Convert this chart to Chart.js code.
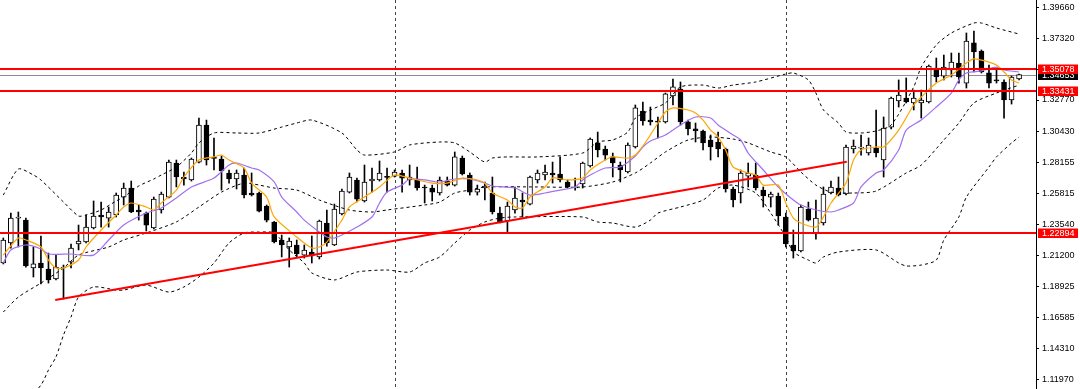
<!DOCTYPE html>
<html>
<head>
<meta charset="utf-8">
<script src="https://cdn.jsdelivr.net/npm/chart.js@4.4.0/dist/chart.umd.min.js"></script>
<style>
  html, body { margin: 0; padding: 0; background: #fff; }
</style>
</head>
<body>
<canvas id="chart" width="1080" height="389"></canvas>
<script>
// weekly candles, oldest first
let opens = [1.2066, 1.2215, 1.2400, 1.2385, 1.2029, 1.2066, 1.2021, 1.1947, 1.2029, 1.2073,
    1.2207, 1.2222, 1.2326, 1.2423, 1.2400, 1.2423, 1.2556, 1.2623, 1.2460, 1.2437,
    1.2326, 1.2460, 1.2556, 1.2809, 1.2705, 1.2683, 1.2816, 1.3091, 1.2846, 1.2839,
    1.2735, 1.2690, 1.2720, 1.2586, 1.2586, 1.2489, 1.2371, 1.2237, 1.2185, 1.2200,
    1.2125, 1.2148, 1.2111, 1.2363, 1.2200, 1.2430, 1.2593, 1.2683, 1.2527, 1.2675,
    1.2683, 1.2705, 1.2712, 1.2735, 1.2683, 1.2690, 1.2631, 1.2623, 1.2586, 1.2675,
    1.2645, 1.2846, 1.2720, 1.2593, 1.2623, 1.2586, 1.2437, 1.2378, 1.2460, 1.2534,
    1.2504, 1.2683, 1.2720, 1.2735, 1.2727, 1.2668, 1.2623, 1.2653, 1.2787, 1.2958,
    1.2913, 1.2854, 1.2794, 1.2742, 1.2928, 1.3195, 1.3128, 1.3121, 1.3114, 1.3307,
    1.3359, 1.3114, 1.3062, 1.3047, 1.2980, 1.2965, 1.2913, 1.2616, 1.2586, 1.2712,
    1.2720, 1.2608, 1.2556, 1.2564, 1.2408, 1.2200, 1.2155, 1.2467, 1.2289, 1.2363,
    1.2586, 1.2623, 1.2579, 1.2913, 1.2920, 1.2883, 1.2920, 1.2831, 1.3076, 1.3270,
    1.3292, 1.3255, 1.3255, 1.3262, 1.3515, 1.3455, 1.3500, 1.3552, 1.3403, 1.3701,
    1.3641, 1.3478, 1.3426, 1.3411, 1.3277, 1.3433];

let highs = [1.2252, 1.2437, 1.2445, 1.2400, 1.2185, 1.2267, 1.2140, 1.2125, 1.2051, 1.2207,
    1.2348, 1.2423, 1.2527, 1.2519, 1.2482, 1.2586, 1.2660, 1.2675, 1.2497, 1.2445,
    1.2556, 1.2593, 1.2831, 1.2831, 1.2742, 1.2846, 1.3143, 1.3128, 1.2995, 1.2861,
    1.2757, 1.2757, 1.2772, 1.2735, 1.2593, 1.2497, 1.2375, 1.2274, 1.2252, 1.2237,
    1.2200, 1.2267, 1.2385, 1.2460, 1.2504, 1.2616, 1.2735, 1.2697, 1.2794, 1.2772,
    1.2824, 1.2772, 1.2757, 1.2757, 1.2794, 1.2779, 1.2645, 1.2645, 1.2705, 1.2705,
    1.2891, 1.2861, 1.2735, 1.2645, 1.2668, 1.2705, 1.2482, 1.2519, 1.2631, 1.2586,
    1.2712, 1.2757, 1.2794, 1.2816, 1.2854, 1.2683, 1.2697, 1.2816, 1.2995, 1.3039,
    1.2935, 1.2883, 1.2816, 1.2958, 1.3240, 1.3262, 1.3225, 1.3151, 1.3329, 1.3433,
    1.3411, 1.3128, 1.3106, 1.3054, 1.3017, 1.3039, 1.2920, 1.2631, 1.2757, 1.2809,
    1.2809, 1.2631, 1.2593, 1.2586, 1.2437, 1.2311, 1.2497, 1.2519, 1.2534, 1.2631,
    1.2675, 1.2705, 1.2943, 1.2980, 1.3017, 1.2995, 1.3203, 1.3151, 1.3299, 1.3426,
    1.3441, 1.3351, 1.3351, 1.3537, 1.3589, 1.3611, 1.3626, 1.3626, 1.3775, 1.3790,
    1.3649, 1.3537, 1.3515, 1.3426, 1.3455, 1.3470];

let lows = [1.2059, 1.2177, 1.2185, 1.2036, 1.1962, 1.1910, 1.1917, 1.1940, 1.1798, 1.2029,
    1.2163, 1.2215, 1.2319, 1.2333, 1.2333, 1.2408, 1.2497, 1.2440, 1.2385, 1.2304,
    1.2319, 1.2437, 1.2549, 1.2631, 1.2645, 1.2675, 1.2809, 1.2794, 1.2757, 1.2608,
    1.2660, 1.2616, 1.2549, 1.2564, 1.2445, 1.2371, 1.2215, 1.2111, 1.2036, 1.2111,
    1.2103, 1.2066, 1.2096, 1.2192, 1.2195, 1.2423, 1.2586, 1.2519, 1.2519, 1.2593,
    1.2675, 1.2593, 1.2705, 1.2593, 1.2645, 1.2608, 1.2512, 1.2527, 1.2571, 1.2638,
    1.2638, 1.2720, 1.2571, 1.2571, 1.2534, 1.2430, 1.2363, 1.2289, 1.2437, 1.2408,
    1.2497, 1.2660, 1.2683, 1.2660, 1.2668, 1.2623, 1.2608, 1.2623, 1.2779, 1.2854,
    1.2831, 1.2705, 1.2668, 1.2735, 1.2920, 1.3091, 1.3091, 1.2995, 1.3106, 1.3240,
    1.3091, 1.3017, 1.2965, 1.2906, 1.2831, 1.2854, 1.2593, 1.2482, 1.2512, 1.2631,
    1.2608, 1.2482, 1.2482, 1.2348, 1.2185, 1.2103, 1.2148, 1.2378, 1.2244, 1.2348,
    1.2579, 1.2564, 1.2571, 1.2883, 1.2868, 1.2868, 1.2854, 1.2705, 1.3062, 1.3225,
    1.3255, 1.3203, 1.3143, 1.3255, 1.3411, 1.3426, 1.3448, 1.3403, 1.3366, 1.3485,
    1.3478, 1.3366, 1.3403, 1.3143, 1.3247, 1.3426];

let closes = [1.2237, 1.2400, 1.2408, 1.2044, 1.2059, 1.2029, 1.1940, 1.2036, 1.2033, 1.2177,
    1.2229, 1.2333, 1.2415, 1.2408, 1.2445, 1.2571, 1.2623, 1.2445, 1.2445, 1.2348,
    1.2541, 1.2579, 1.2816, 1.2705, 1.2690, 1.2839, 1.3091, 1.2831, 1.2843, 1.2750,
    1.2690, 1.2735, 1.2571, 1.2571, 1.2452, 1.2385, 1.2222, 1.2200, 1.2229, 1.2133,
    1.2163, 1.2118, 1.2378, 1.2215, 1.2467, 1.2601, 1.2705, 1.2541, 1.2668, 1.2690,
    1.2735, 1.2702, 1.2742, 1.2697, 1.2705, 1.2623, 1.2623, 1.2593, 1.2683, 1.2645,
    1.2854, 1.2727, 1.2593, 1.2616, 1.2638, 1.2445, 1.2371, 1.2489, 1.2549, 1.2519,
    1.2705, 1.2735, 1.2742, 1.2720, 1.2683, 1.2631, 1.2631, 1.2809, 1.2987, 1.2906,
    1.2868, 1.2809, 1.2757, 1.2943, 1.3218, 1.3121, 1.3114, 1.3112, 1.3322, 1.3374,
    1.3114, 1.3062, 1.3047, 1.2958, 1.2928, 1.2913, 1.2616, 1.2534, 1.2735, 1.2735,
    1.2623, 1.2564, 1.2579, 1.2415, 1.2207, 1.2155, 1.2482, 1.2385, 1.2400, 1.2579,
    1.2631, 1.2571, 1.2928, 1.2935, 1.2922, 1.2943, 1.2883, 1.3069, 1.3292, 1.3314,
    1.3262, 1.3292, 1.3277, 1.3530, 1.3448, 1.3522, 1.3559, 1.3448, 1.3715, 1.3634,
    1.3485, 1.3403, 1.3418, 1.3277, 1.3448, 1.3465];

// indicator lines: [bar, price]
let fastMA = [[0,1.2125],[2,1.2252],[3,1.2237],[5,1.2185],[6,1.2088],[7,1.2029],[8,1.2029],[10,1.2088],[11,1.2185],[13,1.2311],
    [15,1.2423],[16,1.2482],[17,1.2512],[19,1.2482],[20,1.2460],[21,1.2512],[23,1.2608],[24,1.2705],[26,1.2831],[28,1.2854],
    [29,1.2868],[30,1.2831],[32,1.2772],[33,1.2660],[35,1.2556],[36,1.2408],[39,1.2259],[41,1.2177],[42,1.2185],[43,1.2222],
    [45,1.2385],[46,1.2482],[48,1.2556],[50,1.2631],[52,1.2720],[54,1.2697],[57,1.2660],[59,1.2660],[61,1.2697],[63,1.2683],
    [64,1.2660],[65,1.2586],[67,1.2534],[68,1.2482],[69,1.2475],[70,1.2556],[72,1.2631],[73,1.2697],[75,1.2683],[77,1.2697],
    [78,1.2757],[80,1.2831],[81,1.2854],[83,1.2846],[84,1.2868],[85,1.2935],[86,1.3017],[87,1.3106],[88,1.3188],[89,1.3218],
    [91,1.3203],[92,1.3180],[93,1.3128],[94,1.3054],[95,1.3002],[96,1.2906],[97,1.2779],[99,1.2735],[100,1.2720],[101,1.2645],
    [103,1.2645],[104,1.2512],[105,1.2400],[106,1.2363],[108,1.2333],[109,1.2408],[110,1.2512],[112,1.2660],[113,1.2831],[114,1.2906],
    [116,1.2928],[117,1.2928],[119,1.3054],[121,1.3240],[122,1.3299],[124,1.3403],[126,1.3463],[128,1.3552],[129,1.3582],[131,1.3559],
    [132,1.3537],[133,1.3485],[134,1.3426],[135,1.3403]];

let slowMA = [[0,1.2066],[1,1.2163],[3,1.2200],[5,1.2170],[6,1.2133],[9,1.2133],[12,1.2125],[14,1.2237],[16,1.2348],[19,1.2437],
    [21,1.2475],[23,1.2549],[25,1.2631],[28,1.2697],[30,1.2794],[31,1.2809],[33,1.2772],[34,1.2757],[36,1.2668],[37,1.2556],
    [39,1.2445],[40,1.2385],[42,1.2296],[43,1.2259],[44,1.2252],[45,1.2274],[47,1.2333],[49,1.2408],[50,1.2512],[51,1.2593],
    [53,1.2645],[54,1.2690],[56,1.2683],[58,1.2668],[60,1.2690],[62,1.2690],[64,1.2660],[65,1.2638],[68,1.2623],[70,1.2571],
    [72,1.2586],[74,1.2608],[76,1.2631],[77,1.2683],[78,1.2720],[80,1.2772],[82,1.2779],[84,1.2861],[85,1.2928],[86,1.2972],
    [88,1.3017],[90,1.3091],[92,1.3151],[94,1.3143],[95,1.3091],[97,1.3017],[98,1.2980],[99,1.2883],[101,1.2757],[103,1.2631],
    [105,1.2534],[106,1.2497],[108,1.2460],[110,1.2445],[111,1.2460],[113,1.2512],[114,1.2631],[116,1.2735],[117,1.2757],[119,1.2906],
    [120,1.3054],[122,1.3128],[124,1.3225],[126,1.3329],[127,1.3426],[128,1.3478],[130,1.3493],[132,1.3522],[133,1.3500],[135,1.3485]];

let upperBand = [[0,1.2571],[2,1.2764],[4,1.2720],[5,1.2683],[8,1.2519],[10,1.2415],[11,1.2423],[13,1.2460],[15,1.2527],[16,1.2556],
    [18,1.2638],[20,1.2690],[21,1.2720],[23,1.2779],[25,1.2883],[26,1.2958],[28,1.3032],[31,1.3032],[34,1.3032],[37,1.3076],
    [39,1.3106],[41,1.3128],[45,1.3032],[47,1.2906],[48,1.2868],[52,1.2891],[54,1.2943],[58,1.2965],[60,1.2958],[62,1.2891],
    [64,1.2816],[65,1.2846],[67,1.2854],[71,1.2854],[77,1.2883],[79,1.2965],[81,1.2980],[83,1.3039],[84,1.3143],[86,1.3203],
    [88,1.3255],[90,1.3374],[93,1.3388],[95,1.3366],[97,1.3388],[100,1.3411],[104,1.3470],[105,1.3478],[107,1.3426],[108,1.3329],
    [109,1.3203],[111,1.3106],[112,1.3039],[114,1.3032],[116,1.3047],[118,1.3091],[121,1.3374],[122,1.3522],[124,1.3686],[126,1.3775],
    [129,1.3849],[130,1.3849],[132,1.3812],[135,1.3767]];

let middleBand = [[0,1.1702],[2,1.1813],[5,1.1917],[8,1.2029],[10,1.2125],[14,1.2185],[16,1.2237],[19,1.2289],[23,1.2371],[26,1.2482],
    [29,1.2593],[32,1.2660],[34,1.2645],[36,1.2623],[39,1.2608],[42,1.2534],[46,1.2460],[49,1.2445],[51,1.2460],[56,1.2497],
    [58,1.2519],[60,1.2586],[62,1.2608],[64,1.2631],[71,1.2631],[77,1.2631],[81,1.2668],[84,1.2735],[86,1.2809],[88,1.2891],
    [91,1.2980],[94,1.3002],[97,1.2987],[99,1.2958],[102,1.2891],[104,1.2854],[106,1.2742],[108,1.2645],[110,1.2593],[113,1.2586],
    [116,1.2601],[120,1.2735],[122,1.2794],[125,1.2980],[127,1.3106],[129,1.3255],[132,1.3329],[135,1.3388]];

let lowerBand = [[0,1.0833],[5,1.1159],[6,1.1271],[7,1.1368],[8,1.1531],[9,1.1665],[10,1.1813],[12,1.1888],[15,1.1865],[16,1.1865],
    [19,1.1902],[22,1.1850],[24,1.1888],[26,1.1962],[28,1.2066],[30,1.2215],[32,1.2289],[34,1.2296],[36,1.2289],[38,1.2163],
    [40,1.2066],[41,1.1992],[44,1.1940],[47,1.1999],[51,1.2014],[54,1.1999],[56,1.2066],[58,1.2111],[60,1.2215],[62,1.2311],
    [64,1.2371],[66,1.2400],[68,1.2408],[77,1.2408],[79,1.2371],[81,1.2363],[84,1.2333],[86,1.2385],[87,1.2437],[90,1.2482],
    [93,1.2534],[95,1.2623],[97,1.2645],[100,1.2586],[102,1.2437],[104,1.2259],[105,1.2148],[107,1.2088],[108,1.2066],[109,1.2111],
    [111,1.2148],[116,1.2163],[119,1.2066],[120,1.2044],[122,1.2051],[124,1.2088],[125,1.2237],[127,1.2408],[128,1.2556],[131,1.2779],
    [132,1.2854],[134,1.2958],[135,1.3002]];

// drawn objects
let trendLine = [[6.9, 1.1791], [112.1, 1.2819]];
let levels = [1.35078, 1.33431, 1.22894];
let lastPrice = 1.34653;
let yearStarts = [52, 104];
let yTicks = [1.11970, 1.14310, 1.16585, 1.18925, 1.21200, 1.23540, 1.25815, 1.28155, 1.30430, 1.32770, 1.35045, 1.37320, 1.39660];

const fontFamily = '"Liberation Sans", Arial, sans-serif';
const labelFont = '9px ' + fontFamily;


function toPoints(list) {
    return list.map(p => ({ x: p[0], y: p[1] }));
}


function lineSet(list, color, dashed, order) {
    return {
        type: 'line',
        data: toPoints(list),
        borderColor: color,
        borderWidth: dashed ? 1 : 1.2,
        borderDash: dashed ? [3, 3] : [],
        pointRadius: 0,
        tension: 0.25,
        order: order
    };
}


function drawTag(ctx, y, value, bg, left) {
    let py = Math.round(y.getPixelForValue(value));
    ctx.fillStyle = bg;
    ctx.fillRect(left + 2, py - 4.5, 40, 9.5);
    ctx.fillStyle = '#fff';
    ctx.font = labelFont;
    ctx.textBaseline = 'middle';
    ctx.textAlign = 'left';
    ctx.fillText(value.toFixed(5), left + 6, py + 0.5);
}


const chartObjects = {
    id: 'chartObjects',
    beforeDatasetsDraw(chart) {
        let { ctx, chartArea, scales: { x, y } } = chart;
        ctx.save();
        ctx.strokeStyle = '#444';
        ctx.lineWidth = 1;
        ctx.setLineDash([3, 3]);
        yearStarts.forEach(i => {
            let px = Math.round(x.getPixelForValue(i)) + 0.5;
            ctx.beginPath();
            ctx.moveTo(px, chartArea.top);
            ctx.lineTo(px, chartArea.bottom);
            ctx.stroke();
        });
        ctx.setLineDash([]);
        ctx.strokeStyle = '#8c8c9c';
        let py = Math.round(y.getPixelForValue(lastPrice)) + 0.5;
        ctx.beginPath();
        ctx.moveTo(chartArea.left, py);
        ctx.lineTo(chartArea.right, py);
        ctx.stroke();
        ctx.restore();
    },
    afterDatasetsDraw(chart) {
        let { ctx, chartArea, scales: { y } } = chart;
        ctx.save();
        ctx.strokeStyle = '#ff0000';
        ctx.lineWidth = 2;
        levels.forEach(v => {
            let py = Math.round(y.getPixelForValue(v));
            ctx.beginPath();
            ctx.moveTo(chartArea.left, py);
            ctx.lineTo(chartArea.right, py);
            ctx.stroke();
        });
        ctx.restore();
    },
    afterDraw(chart) {
        let { ctx, chartArea, scales: { y } } = chart;
        ctx.save();
        drawTag(ctx, y, lastPrice, '#000', chartArea.right);
        levels.forEach(v => drawTag(ctx, y, v, '#ff0000', chartArea.right));
        ctx.restore();
    }
};


let bars = closes.map((c, i) => i);

new Chart(document.getElementById('chart'), {
    type: 'bar',
    data: {
        datasets: [
            {
                data: bars.map(i => ({ x: i, y: [lows[i], highs[i]] })),
                backgroundColor: '#000',
                barThickness: 1,
                grouped: false,
                order: 10
            },
            {
                data: bars.map(i => ({ x: i, y: [opens[i], closes[i]] })),
                backgroundColor: bars.map(i => closes[i] >= opens[i] ? '#fff' : '#000'),
                borderColor: '#000',
                borderWidth: 1,
                borderSkipped: false,
                barThickness: 5,
                minBarLength: 1,
                grouped: false,
                order: 9
            },
            lineSet(upperBand, '#000', true, 8),
            lineSet(middleBand, '#000', true, 8),
            lineSet(lowerBand, '#000', true, 8),
            lineSet(slowMA, '#a070f0', false, 7),
            lineSet(fastMA, '#ffa500', false, 6),
            {
                type: 'line',
                data: toPoints(trendLine),
                borderColor: '#ff0000',
                borderWidth: 2,
                pointRadius: 0,
                order: 1
            }
        ]
    },
    options: {
        responsive: false,
        animation: false,
        devicePixelRatio: 1,
        layout: { padding: 0, autoPadding: false },
        plugins: {
            legend: { display: false },
            tooltip: { enabled: false }
        },
        scales: {
            x: {
                type: 'linear',
                display: false,
                offset: false,
                min: -0.44,
                max: 137.25
            },
            y: {
                position: 'right',
                min: 1.1130,
                max: 1.4020,
                afterBuildTicks: scale => {
                    scale.ticks = yTicks.map(v => ({ value: v }));
                },
                afterFit: scale => {
                    scale.width = 44;
                    scale.paddingTop = 0;
                    scale.paddingBottom = 0;
                },
                ticks: {
                    color: '#000',
                    padding: 3,
                    autoSkip: false,
                    font: { family: fontFamily, size: 9 },
                    callback: v => v.toFixed(5)
                },
                grid: {
                    drawOnChartArea: false,
                    drawTicks: true,
                    tickLength: 3,
                    color: '#000'
                },
                border: { display: true, color: '#000', width: 1 }
            }
        }
    },
    plugins: [chartObjects]
});
</script>
</body>
</html>
